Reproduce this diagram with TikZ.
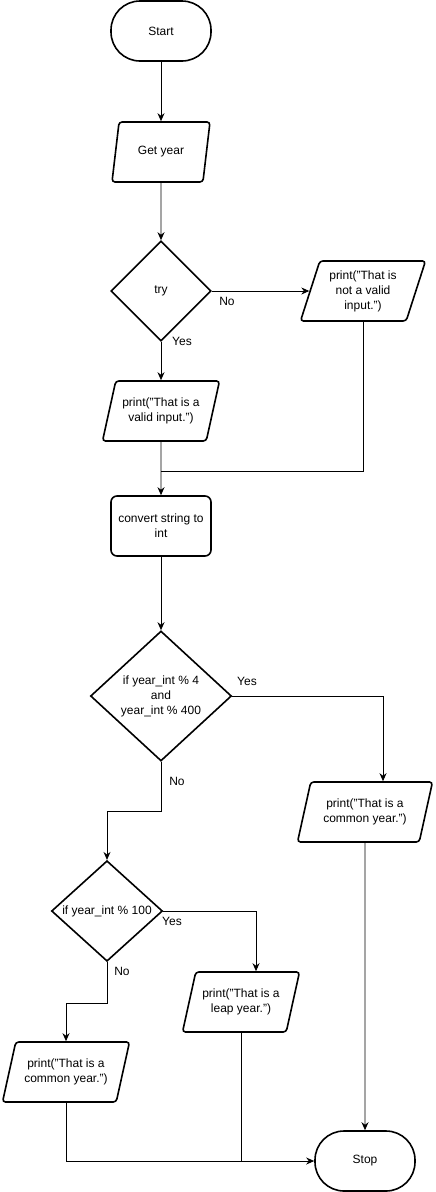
\documentclass[tikz,border=0pt]{standalone}
\usepackage{fontspec}
\setmainfont{Liberation Sans}
\usetikzlibrary{shapes.geometric,arrows.meta}

\tikzset{
  box/.style={draw,line width=1.6pt,align=center,font=\fontsize{12}{15}\selectfont},
  terminal/.style={box,rectangle,rounded corners=29pt,minimum width=100pt,minimum height=60pt},
  process/.style={box,rectangle,rounded corners=6pt,minimum width=100pt,minimum height=60pt},
  io/.style={box,trapezium,trapezium left angle=68,trapezium right angle=112,
    trapezium stretches body,rounded corners=3pt,minimum height=60pt,inner xsep=2pt},
  decision/.style={box,diamond,inner sep=0pt},
  flow/.style={line width=0.9pt,-{Stealth[length=8pt,width=7pt]}},
  link/.style={line width=0.9pt},
  lbl/.style={font=\fontsize{12}{15}\selectfont,inner sep=0pt}
}

\begin{document}
\begin{tikzpicture}[x=1pt,y=1pt]
  \useasboundingbox (0,0) rectangle (436,-1192);
  % main column
  \node[terminal] (start) at (161,-31) {Start};
  \node[io,minimum width=98pt] (getyear) at (161,-152) {Get year};
  \node[decision,minimum width=100pt,minimum height=100pt] (try) at (161,-291) {try};
  \node[io,minimum width=125pt] (invalid) at (363,-291) {print("That is\\ not a valid\\ input.")};
  \node[io,minimum width=117pt] (valid) at (161,-411) {print("That is a\\ valid input.")};
  \node[process] (convert) at (161,-526) {convert string to\\ int};
  \node[decision,minimum width=141pt,minimum height=130pt] (every4) at (161,-696)
    {if year\_int \% 4\\ and\\ year\_int \% 400};
  \node[io,minimum width=135pt] (commonA) at (365,-812) {print("That is a\\ common year.")};
  \node[decision,minimum width=111pt,minimum height=100pt] (every100) at (107,-911) {if year\_int \% 100};
  \node[io,minimum width=117pt] (leap) at (241,-1002) {print("That is a\\ leap year.")};
  \node[io,minimum width=127pt] (commonB) at (66,-1072) {print("That is a\\ common year.")};
  \node[terminal] (stop) at (365,-1161) {Stop};
  \coordinate (merge) at (161,-471);

  \draw[flow] (start) -- (getyear);
  \draw[flow] (getyear) -- (try);
  \draw[flow] (try) -- (invalid);
  \draw[flow] (try) -- (valid);
  \draw[link] (invalid.south) |- (merge);
  \draw[flow] (valid) -- (convert);
  \draw[flow] (convert) -- (every4);
  \draw[flow] (every4.east) -| ([xshift=18pt]commonA.north);
  \draw[flow] (every4.south) -- ++(0,-50) -| (every100.north);
  \draw[flow] (every100.east) -| ([xshift=15pt]leap.north);
  \draw[flow] (every100.south) -- ++(0,-41) -| (commonB.north);
  \draw[flow] (commonA) -- (stop);
  \draw[flow] (commonB.south) |- (stop.west);
  \draw[link] (leap.south) -- (leap.south |- stop.west);

  % branch labels
  \node[lbl] (no1) at (227,-301) {No};
  \node[lbl] (yes1) at (182,-341) {Yes};
  \node[lbl] (yes2) at (247,-681) {Yes};
  \node[lbl] (no2) at (177,-781) {No};
  \node[lbl] (yes3) at (172,-921) {Yes};
  \node[lbl] (no3) at (122,-971) {No};
\end{tikzpicture}
\end{document}
